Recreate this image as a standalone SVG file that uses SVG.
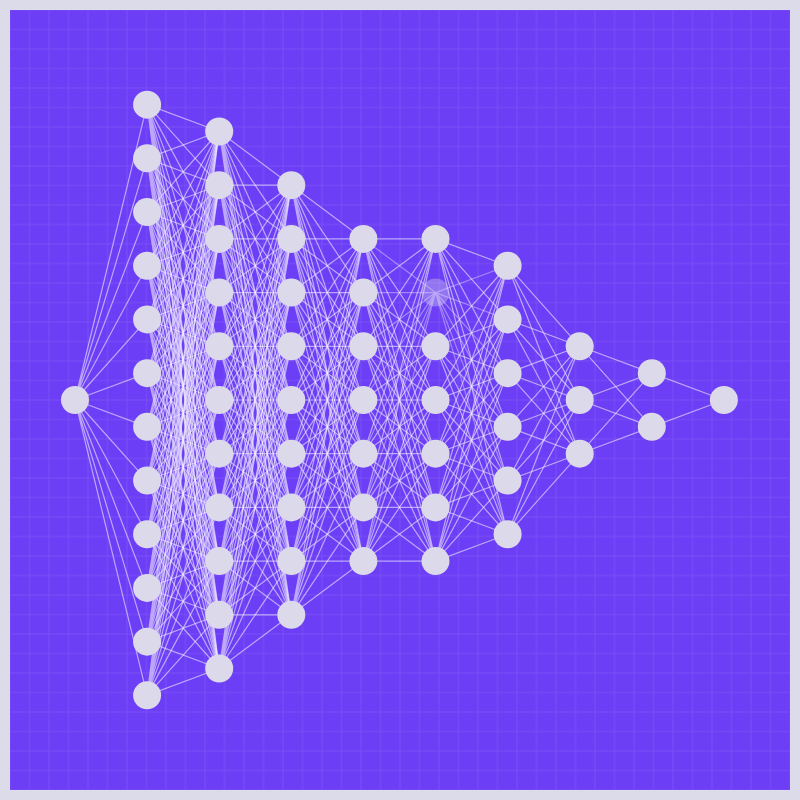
<svg xmlns="http://www.w3.org/2000/svg" width="800" height="800" viewBox="0 0 800 800">
<defs>
<pattern id="grid" x="0.25" y="0.25" width="19.5" height="19.5" patternUnits="userSpaceOnUse">
<path d="M9.75 0V19.5M0 9.75H19.5" stroke="#ffffff" stroke-opacity="0.09" stroke-width="1" fill="none"/>
</pattern>
<style>
.e{fill:none;stroke:#f0ecff;stroke-opacity:0.6;stroke-width:1.2;vector-effect:non-scaling-stroke}
.f{fill:none;stroke:#f0ecff;stroke-opacity:0.42;stroke-width:1.2;vector-effect:non-scaling-stroke}
.n circle{fill:#dcdaea}
.n .faded{fill:#dcdaea;fill-opacity:0.35}
</style>
</defs>
<rect x="0" y="0" width="800" height="800" fill="#dcdbe9"/>
<rect x="10" y="10" width="780" height="780" fill="#6c3ef5"/>
<rect x="10" y="10" width="780" height="780" fill="url(#grid)"/>
<g id="connectors" transform="translate(75 400) scale(72.1 26.85)">
<path class="e" d="M0 0L1 -11M0 0L1 -9M0 0L1 -7M0 0L1 -5M0 0L1 -3M0 0L1 -1M0 0L1 1M0 0L1 3M0 0L1 5M0 0L1 7M0 0L1 9M0 0L1 11"/>
<path class="e" d="M1 -11L2 -10M1 -11L2 -8M1 -11L2 -6M1 -11L2 -4M1 -11L2 -2M1 -11L2 0M1 -11L2 2M1 -11L2 4M1 -11L2 6M1 -11L2 8M1 -11L2 10"/>
<path class="e" d="M1 -9L2 -10M1 -9L2 -8M1 -9L2 -6M1 -9L2 -4M1 -9L2 -2M1 -9L2 0M1 -9L2 2M1 -9L2 4M1 -9L2 6M1 -9L2 8M1 -9L2 10"/>
<path class="e" d="M1 -7L2 -10M1 -7L2 -8M1 -7L2 -6M1 -7L2 -4M1 -7L2 -2M1 -7L2 0M1 -7L2 2M1 -7L2 4M1 -7L2 6M1 -7L2 8M1 -7L2 10"/>
<path class="e" d="M1 -5L2 -10M1 -5L2 -8M1 -5L2 -6M1 -5L2 -4M1 -5L2 -2M1 -5L2 0M1 -5L2 2M1 -5L2 4M1 -5L2 6M1 -5L2 8M1 -5L2 10"/>
<path class="e" d="M1 -3L2 -10M1 -3L2 -8M1 -3L2 -6M1 -3L2 -4M1 -3L2 -2M1 -3L2 0M1 -3L2 2M1 -3L2 4M1 -3L2 6M1 -3L2 8M1 -3L2 10"/>
<path class="e" d="M1 -1L2 -10M1 -1L2 -8M1 -1L2 -6M1 -1L2 -4M1 -1L2 -2M1 -1L2 0M1 -1L2 2M1 -1L2 4M1 -1L2 6M1 -1L2 8M1 -1L2 10"/>
<path class="e" d="M1 1L2 -10M1 1L2 -8M1 1L2 -6M1 1L2 -4M1 1L2 -2M1 1L2 0M1 1L2 2M1 1L2 4M1 1L2 6M1 1L2 8M1 1L2 10"/>
<path class="e" d="M1 3L2 -10M1 3L2 -8M1 3L2 -6M1 3L2 -4M1 3L2 -2M1 3L2 0M1 3L2 2M1 3L2 4M1 3L2 6M1 3L2 8M1 3L2 10"/>
<path class="e" d="M1 5L2 -10M1 5L2 -8M1 5L2 -6M1 5L2 -4M1 5L2 -2M1 5L2 0M1 5L2 2M1 5L2 4M1 5L2 6M1 5L2 8M1 5L2 10"/>
<path class="e" d="M1 7L2 -10M1 7L2 -8M1 7L2 -6M1 7L2 -4M1 7L2 -2M1 7L2 0M1 7L2 2M1 7L2 4M1 7L2 6M1 7L2 8M1 7L2 10"/>
<path class="e" d="M1 9L2 -10M1 9L2 -8M1 9L2 -6M1 9L2 -4M1 9L2 -2M1 9L2 0M1 9L2 2M1 9L2 4M1 9L2 6M1 9L2 8M1 9L2 10"/>
<path class="e" d="M1 11L2 -10M1 11L2 -8M1 11L2 -6M1 11L2 -4M1 11L2 -2M1 11L2 0M1 11L2 2M1 11L2 4M1 11L2 6M1 11L2 8M1 11L2 10"/>
<path class="e" d="M2 -10L3 -8M2 -10L3 -6M2 -10L3 -4M2 -10L3 -2M2 -10L3 0M2 -10L3 2M2 -10L3 4M2 -10L3 6M2 -10L3 8"/>
<path class="e" d="M2 -8L3 -8M2 -8L3 -6M2 -8L3 -4M2 -8L3 -2M2 -8L3 0M2 -8L3 2M2 -8L3 4M2 -8L3 6M2 -8L3 8"/>
<path class="e" d="M2 -6L3 -8M2 -6L3 -6M2 -6L3 -4M2 -6L3 -2M2 -6L3 0M2 -6L3 2M2 -6L3 4M2 -6L3 6M2 -6L3 8"/>
<path class="e" d="M2 -4L3 -8M2 -4L3 -6M2 -4L3 -4M2 -4L3 -2M2 -4L3 0M2 -4L3 2M2 -4L3 4M2 -4L3 6M2 -4L3 8"/>
<path class="e" d="M2 -2L3 -8M2 -2L3 -6M2 -2L3 -4M2 -2L3 -2M2 -2L3 0M2 -2L3 2M2 -2L3 4M2 -2L3 6M2 -2L3 8"/>
<path class="e" d="M2 0L3 -8M2 0L3 -6M2 0L3 -4M2 0L3 -2M2 0L3 0M2 0L3 2M2 0L3 4M2 0L3 6M2 0L3 8"/>
<path class="e" d="M2 2L3 -8M2 2L3 -6M2 2L3 -4M2 2L3 -2M2 2L3 0M2 2L3 2M2 2L3 4M2 2L3 6M2 2L3 8"/>
<path class="e" d="M2 4L3 -8M2 4L3 -6M2 4L3 -4M2 4L3 -2M2 4L3 0M2 4L3 2M2 4L3 4M2 4L3 6M2 4L3 8"/>
<path class="e" d="M2 6L3 -8M2 6L3 -6M2 6L3 -4M2 6L3 -2M2 6L3 0M2 6L3 2M2 6L3 4M2 6L3 6M2 6L3 8"/>
<path class="e" d="M2 8L3 -8M2 8L3 -6M2 8L3 -4M2 8L3 -2M2 8L3 0M2 8L3 2M2 8L3 4M2 8L3 6M2 8L3 8"/>
<path class="e" d="M2 10L3 -8M2 10L3 -6M2 10L3 -4M2 10L3 -2M2 10L3 0M2 10L3 2M2 10L3 4M2 10L3 6M2 10L3 8"/>
<path class="e" d="M3 -8L4 -6M3 -8L4 -4M3 -8L4 -2M3 -8L4 0M3 -8L4 2M3 -8L4 4M3 -8L4 6"/>
<path class="e" d="M3 -6L4 -6M3 -6L4 -4M3 -6L4 -2M3 -6L4 0M3 -6L4 2M3 -6L4 4M3 -6L4 6"/>
<path class="e" d="M3 -4L4 -6M3 -4L4 -4M3 -4L4 -2M3 -4L4 0M3 -4L4 2M3 -4L4 4M3 -4L4 6"/>
<path class="e" d="M3 -2L4 -6M3 -2L4 -4M3 -2L4 -2M3 -2L4 0M3 -2L4 2M3 -2L4 4M3 -2L4 6"/>
<path class="e" d="M3 0L4 -6M3 0L4 -4M3 0L4 -2M3 0L4 0M3 0L4 2M3 0L4 4M3 0L4 6"/>
<path class="e" d="M3 2L4 -6M3 2L4 -4M3 2L4 -2M3 2L4 0M3 2L4 2M3 2L4 4M3 2L4 6"/>
<path class="e" d="M3 4L4 -6M3 4L4 -4M3 4L4 -2M3 4L4 0M3 4L4 2M3 4L4 4M3 4L4 6"/>
<path class="e" d="M3 6L4 -6M3 6L4 -4M3 6L4 -2M3 6L4 0M3 6L4 2M3 6L4 4M3 6L4 6"/>
<path class="e" d="M3 8L4 -6M3 8L4 -4M3 8L4 -2M3 8L4 0M3 8L4 2M3 8L4 4M3 8L4 6"/>
<path class="e" d="M4 -6L5 -6M4 -6L5 -2M4 -6L5 0M4 -6L5 2M4 -6L5 4M4 -6L5 6"/>
<path class="e" d="M4 -4L5 -6M4 -4L5 -2M4 -4L5 0M4 -4L5 2M4 -4L5 4M4 -4L5 6"/>
<path class="e" d="M4 -2L5 -6M4 -2L5 -2M4 -2L5 0M4 -2L5 2M4 -2L5 4M4 -2L5 6"/>
<path class="e" d="M4 0L5 -6M4 0L5 -2M4 0L5 0M4 0L5 2M4 0L5 4M4 0L5 6"/>
<path class="e" d="M4 2L5 -6M4 2L5 -2M4 2L5 0M4 2L5 2M4 2L5 4M4 2L5 6"/>
<path class="e" d="M4 4L5 -6M4 4L5 -2M4 4L5 0M4 4L5 2M4 4L5 4M4 4L5 6"/>
<path class="e" d="M4 6L5 -6M4 6L5 -2M4 6L5 0M4 6L5 2M4 6L5 4M4 6L5 6"/>
<path class="f" d="M4 -6L5 -4M4 -4L5 -4M4 -2L5 -4M4 0L5 -4M4 2L5 -4M4 4L5 -4M4 6L5 -4"/>
<path class="f" d="M5 -4L6 -5M5 -4L6 -3M5 -4L6 -1M5 -4L6 1M5 -4L6 3M5 -4L6 5"/>
<path class="e" d="M5 -6L6 -5M5 -6L6 -3M5 -6L6 -1M5 -6L6 1M5 -6L6 3M5 -6L6 5"/>
<path class="e" d="M5 -2L6 -5M5 -2L6 -3M5 -2L6 -1M5 -2L6 1M5 -2L6 3M5 -2L6 5"/>
<path class="e" d="M5 0L6 -5M5 0L6 -3M5 0L6 -1M5 0L6 1M5 0L6 3M5 0L6 5"/>
<path class="e" d="M5 2L6 -5M5 2L6 -3M5 2L6 -1M5 2L6 1M5 2L6 3M5 2L6 5"/>
<path class="e" d="M5 4L6 -5M5 4L6 -3M5 4L6 -1M5 4L6 1M5 4L6 3M5 4L6 5"/>
<path class="e" d="M5 6L6 -5M5 6L6 -3M5 6L6 -1M5 6L6 1M5 6L6 3M5 6L6 5"/>
<path class="e" d="M6 -5L7 -2M6 -5L7 0M6 -5L7 2"/>
<path class="e" d="M6 -3L7 -2M6 -3L7 0M6 -3L7 2"/>
<path class="e" d="M6 -1L7 -2M6 -1L7 0M6 -1L7 2"/>
<path class="e" d="M6 1L7 -2M6 1L7 0M6 1L7 2"/>
<path class="e" d="M6 3L7 -2M6 3L7 0M6 3L7 2"/>
<path class="e" d="M6 5L7 -2M6 5L7 0M6 5L7 2"/>
<path class="e" d="M7 -2L8 -1M7 -2L8 1"/>
<path class="e" d="M7 0L8 -1M7 0L8 1"/>
<path class="e" d="M7 2L8 -1M7 2L8 1"/>
<path class="e" d="M8 -1L9 0"/>
<path class="e" d="M8 1L9 0"/>
</g>
<g class="n">
<g id="n0-1"><circle cx="75" cy="400" r="14"/></g>
<g id="n1-1"><circle cx="147.1" cy="104.65" r="14"/></g>
<g id="n1-2"><circle cx="147.1" cy="158.35" r="14"/></g>
<g id="n1-3"><circle cx="147.1" cy="212.05" r="14"/></g>
<g id="n1-4"><circle cx="147.1" cy="265.75" r="14"/></g>
<g id="n1-5"><circle cx="147.1" cy="319.45" r="14"/></g>
<g id="n1-6"><circle cx="147.1" cy="373.15" r="14"/></g>
<g id="n1-7"><circle cx="147.1" cy="426.85" r="14"/></g>
<g id="n1-8"><circle cx="147.1" cy="480.55" r="14"/></g>
<g id="n1-9"><circle cx="147.1" cy="534.25" r="14"/></g>
<g id="n1-10"><circle cx="147.1" cy="587.95" r="14"/></g>
<g id="n1-11"><circle cx="147.1" cy="641.65" r="14"/></g>
<g id="n1-12"><circle cx="147.1" cy="695.35" r="14"/></g>
<g id="n2-1"><circle cx="219.2" cy="131.5" r="14"/></g>
<g id="n2-2"><circle cx="219.2" cy="185.2" r="14"/></g>
<g id="n2-3"><circle cx="219.2" cy="238.9" r="14"/></g>
<g id="n2-4"><circle cx="219.2" cy="292.6" r="14"/></g>
<g id="n2-5"><circle cx="219.2" cy="346.3" r="14"/></g>
<g id="n2-6"><circle cx="219.2" cy="400" r="14"/></g>
<g id="n2-7"><circle cx="219.2" cy="453.7" r="14"/></g>
<g id="n2-8"><circle cx="219.2" cy="507.4" r="14"/></g>
<g id="n2-9"><circle cx="219.2" cy="561.1" r="14"/></g>
<g id="n2-10"><circle cx="219.2" cy="614.8" r="14"/></g>
<g id="n2-11"><circle cx="219.2" cy="668.5" r="14"/></g>
<g id="n3-1"><circle cx="291.3" cy="185.2" r="14"/></g>
<g id="n3-2"><circle cx="291.3" cy="238.9" r="14"/></g>
<g id="n3-3"><circle cx="291.3" cy="292.6" r="14"/></g>
<g id="n3-4"><circle cx="291.3" cy="346.3" r="14"/></g>
<g id="n3-5"><circle cx="291.3" cy="400" r="14"/></g>
<g id="n3-6"><circle cx="291.3" cy="453.7" r="14"/></g>
<g id="n3-7"><circle cx="291.3" cy="507.4" r="14"/></g>
<g id="n3-8"><circle cx="291.3" cy="561.1" r="14"/></g>
<g id="n3-9"><circle cx="291.3" cy="614.8" r="14"/></g>
<g id="n4-1"><circle cx="363.4" cy="238.9" r="14"/></g>
<g id="n4-2"><circle cx="363.4" cy="292.6" r="14"/></g>
<g id="n4-3"><circle cx="363.4" cy="346.3" r="14"/></g>
<g id="n4-4"><circle cx="363.4" cy="400" r="14"/></g>
<g id="n4-5"><circle cx="363.4" cy="453.7" r="14"/></g>
<g id="n4-6"><circle cx="363.4" cy="507.4" r="14"/></g>
<g id="n4-7"><circle cx="363.4" cy="561.1" r="14"/></g>
<g id="n5-1"><circle cx="435.5" cy="238.9" r="14"/></g>
<g id="n5-2"><circle class="faded" cx="435.5" cy="292.6" r="14"/></g>
<g id="n5-3"><circle cx="435.5" cy="346.3" r="14"/></g>
<g id="n5-4"><circle cx="435.5" cy="400" r="14"/></g>
<g id="n5-5"><circle cx="435.5" cy="453.7" r="14"/></g>
<g id="n5-6"><circle cx="435.5" cy="507.4" r="14"/></g>
<g id="n5-7"><circle cx="435.5" cy="561.1" r="14"/></g>
<g id="n6-1"><circle cx="507.6" cy="265.75" r="14"/></g>
<g id="n6-2"><circle cx="507.6" cy="319.45" r="14"/></g>
<g id="n6-3"><circle cx="507.6" cy="373.15" r="14"/></g>
<g id="n6-4"><circle cx="507.6" cy="426.85" r="14"/></g>
<g id="n6-5"><circle cx="507.6" cy="480.55" r="14"/></g>
<g id="n6-6"><circle cx="507.6" cy="534.25" r="14"/></g>
<g id="n7-1"><circle cx="579.7" cy="346.3" r="14"/></g>
<g id="n7-2"><circle cx="579.7" cy="400" r="14"/></g>
<g id="n7-3"><circle cx="579.7" cy="453.7" r="14"/></g>
<g id="n8-1"><circle cx="651.8" cy="373.15" r="14"/></g>
<g id="n8-2"><circle cx="651.8" cy="426.85" r="14"/></g>
<g id="n9-1"><circle cx="723.9" cy="400" r="14"/></g>
</g>
</svg>
